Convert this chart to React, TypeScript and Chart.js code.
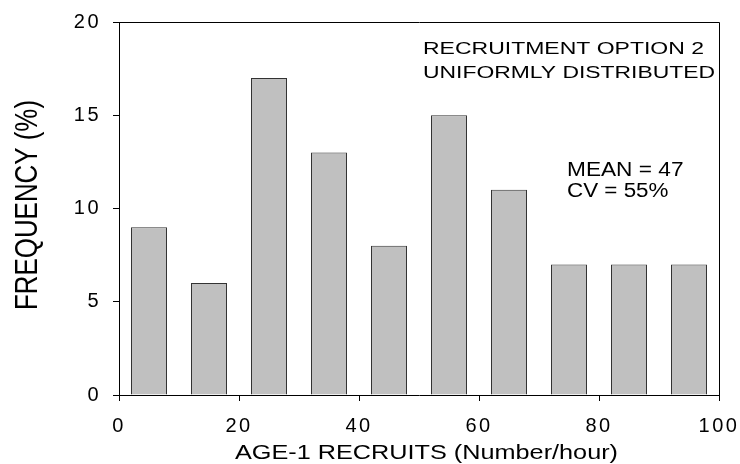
import React, { useEffect, useRef } from "react";
import { Chart, registerables } from "chart.js";

Chart.register(...registerables);

const binCenters = [5, 15, 25, 35, 45, 55, 65, 75, 85, 95];
const frequencies = [9, 6, 17, 13, 8, 15, 11, 7, 7, 7];
const xTitle = "AGE-1 RECRUITS (Number/hour)";
const yTitle = "FREQUENCY (%)";
const noteLines = ["RECRUITMENT OPTION 2", "UNIFORMLY DISTRIBUTED"];
const statLines = ["MEAN = 47", "CV = 55%"];

const FONT = "'Liberation Sans', Arial, Helvetica, sans-serif";

function stretchedText(
  ctx: CanvasRenderingContext2D,
  text: string,
  x: number,
  y: number,
  size: number,
  width: number,
  align: "left" | "center"
) {
  ctx.save();
  ctx.font = `${size}px ${FONT}`;
  ctx.fillStyle = "#000";
  ctx.textBaseline = "alphabetic";
  const w = ctx.measureText(text).width;
  const sx = width / w;
  ctx.translate(x, y);
  ctx.scale(sx, 1);
  ctx.textAlign = align;
  ctx.fillText(text, 0, 0);
  ctx.restore();
}

const decorPlugin = {
  id: "decor",
  beforeDraw(chart: any) {
    chart.ctx.letterSpacing = "2.5px";
  },
  beforeDatasetsDraw(chart: any) {
    chart.ctx.letterSpacing = "0px";
  },
  afterDraw(chart: any) {
    const ctx: CanvasRenderingContext2D = chart.ctx;
    const { left, right, top, bottom } = chart.chartArea;
    ctx.save();
    ctx.letterSpacing = "0px";
    // frame top & right
    ctx.strokeStyle = "#000";
    ctx.lineWidth = 1;
    ctx.beginPath();
    ctx.moveTo(Math.round(left) + 0.5, Math.round(top) + 0.5);
    ctx.lineTo(Math.round(right) + 0.5, Math.round(top) + 0.5);
    ctx.lineTo(Math.round(right) + 0.5, Math.round(bottom) + 0.5);
    ctx.stroke();

    // x title
    stretchedText(ctx, xTitle, 426.5, 459, 21, 383, "center");
    // annotations
    stretchedText(ctx, noteLines[0], 423, 53.5, 16, 281, "left");
    stretchedText(ctx, noteLines[1], 423, 77.5, 16, 292, "left");
    stretchedText(ctx, statLines[0], 567, 176, 20, 116.5, "left");
    stretchedText(ctx, statLines[1], 567, 196.5, 20, 101.5, "left");

    // y title (rotated, stretched along screen x)
    ctx.save();
    ctx.font = `26px ${FONT}`;
    ctx.fillStyle = "#000";
    ctx.translate(28, 205);
    ctx.scale(1.22, 1);
    ctx.rotate(-Math.PI / 2);
    ctx.textAlign = "center";
    ctx.textBaseline = "middle";
    const w = ctx.measureText(yTitle).width;
    ctx.scale(210 / w, 1);
    ctx.fillText(yTitle, 0, 0);
    ctx.restore();

    ctx.restore();
  },
};

export default function App() {
  const canvasRef = useRef<HTMLCanvasElement | null>(null);

  useEffect(() => {
    if (!canvasRef.current) return;
    const chart = new Chart(canvasRef.current, {
      type: "bar",
      data: {
        datasets: [
          {
            data: binCenters.map((c, i) => ({ x: c, y: frequencies[i] })),
            backgroundColor: "#c0c0c0",
            borderColor: "#333333",
            borderWidth: 1,
            barPercentage: 0.6,
            categoryPercentage: 1.0,
          },
        ],
      },
      plugins: [decorPlugin],
      options: {
        animation: false,
        responsive: true,
        maintainAspectRatio: false,
        layout: { padding: { left: 0, right: 21, top: 22, bottom: 0 } },
        plugins: {
          legend: { display: false },
          tooltip: { enabled: false },
        },
        scales: {
          x: {
            type: "linear",
            min: 0,
            max: 100,
            offset: false,
            ticks: {
              stepSize: 20,
              color: "#000",
              font: { family: FONT, size: 20 },
              padding: 13,
              maxRotation: 0,
            },
            grid: {
              offset: false,
              drawOnChartArea: false,
              drawTicks: true,
              tickLength: 6,
              color: "#000",
            },
            border: { display: true, color: "#000", width: 1 },
            afterFit(scale: any) {
              scale.height = 69;
              scale.paddingLeft = 0;
              scale.paddingRight = 0;
            },
          },
          y: {
            min: 0,
            max: 20,
            ticks: {
              stepSize: 5,
              color: "#000",
              font: { family: FONT, size: 20 },
              padding: 12,
            },
            grid: {
              drawOnChartArea: false,
              drawTicks: true,
              tickLength: 6,
              color: "#000",
            },
            border: { display: true, color: "#000", width: 1 },
            afterFit(scale: any) {
              scale.width = 119;
              scale.paddingTop = 0;
              scale.paddingBottom = 0;
            },
          },
        },
      },
    });
    return () => chart.destroy();
  }, []);

  return (
    <div style={{ position: "fixed", left: 0, top: 0, width: 740, height: 464, background: "#fff" }}>
      <canvas ref={canvasRef} />
    </div>
  );
}
